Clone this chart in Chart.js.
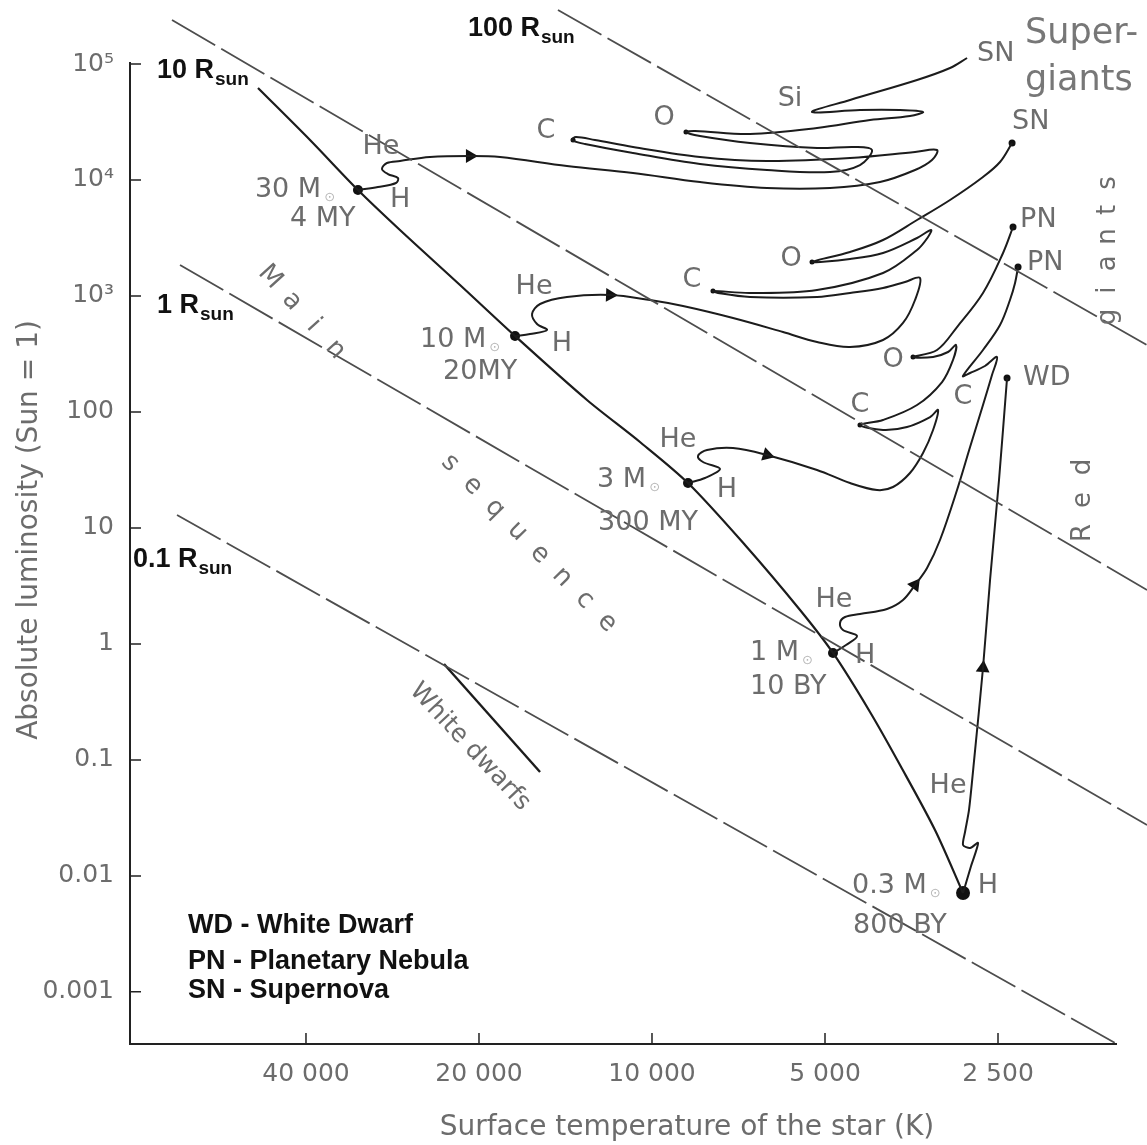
<!DOCTYPE html>
<html>
<head>
<meta charset="utf-8">
<script src="https://cdn.jsdelivr.net/npm/chart.js@4.4.1/dist/chart.umd.min.js"></script>
<style>
  html, body { margin: 0; padding: 0; background: #fff; }
  #hr { display: block; }
</style>
</head>
<body>
<canvas id="hr" width="1147" height="1145"></canvas>
<script>
// axis ranges: surface temperature (K), luminosity (Sun = 1)
const tempMin = 1552, tempMax = 80960;
const lumMin = 3.552e-4, lumMax = 1e5;
const tempTicks = [40000, 20000, 10000, 5000, 2500];
const tempTickLabels = ['40 000', '20 000', '10 000', '5 000', '2 500'];
const lumTicks = [1e5, 1e4, 1e3, 100, 10, 1, 0.1, 0.01, 0.001];
const lumTickLabels = ['10⁵', '10⁴', '10³', '100', '10', '1', '0.1', '0.01', '0.001'];

// lines of constant radius, [T, L] end points
const radius100 = [[14575, 292200], [1376, 377.8]];
const radius10 = [[68420, 239500], [1376, 2.916]];
const radius1 = [[66260, 1849], [1376, 0.02746]];
const radius01 = [[67060, 12.93], [1552, 3.552e-4]];

// zero-age main sequence
const mainSeq = [[48480, 62100], [39360, 22120], [32480, 8196], [27450, 3705], [21580, 1243],
  [17310, 451.6], [12975, 126.8], [10493, 55.07], [8657, 24.40], [6889, 7.125], [5526, 1.961],
  [4842, 0.835], [4175, 0.2588], [3702, 0.09035], [3218, 0.02486], [2876, 0.007118]];

const whiteDwarfs = [[23010, 0.6712], [15660, 0.07864]];

// evolution tracks
const track30 = [[32480, 8196], [29980, 8699], [27890, 9418], [27670, 10400], [28800, 11260],
  [29500, 12440], [28920, 14010], [27440, 14580], [24340, 15780], [20740, 16100], [18380, 15780],
  [14060, 13200], [10790, 11490], [8251, 9607], [6307, 8527], [4900, 8527], [4011, 9607],
  [3486, 12190], [3257, 14870], [3192, 18140],
  [3486, 17430], [4523, 15470], [6307, 14580], [8251, 15780], [10790, 19250], [12565, 22120], [13560, 23470],
  [13780, 22120], [13080, 20430], [10790, 17090], [8251, 13730], [6307, 12190], [4900, 11720],
  [4346, 13460], [4142, 18140],
  [4433, 19250], [5162, 18870], [6752, 20840], [8251, 23950], [8727, 25930],
  [8418, 26440], [6752, 24920], [5162, 28070], [4175, 32900], [3557, 35620], [3376, 38560],
  [3702, 40120], [4346, 40120], [5267, 38560],
  [4523, 48940], [3458, 72790], [3030, 92370], [2830, 112640]];

const track10 = [[17310, 451.6], [16300, 469.9], [15230, 508.8], [15850, 573.2], [16170, 699.0],
  [15660, 852.5], [14060, 979.6], [11830, 1019], [10080, 923], [8832, 819.3], [7228, 645.6],
  [5916, 489.0], [5162, 400.9], [4523, 363.0], [3963, 417.2], [3658, 584.7], [3486, 923], [3417, 1428],
  [3629, 1320], [3963, 1171], [4523, 1061], [5162, 979.6], [6752, 979.6], [7676, 1061], [7832, 1104],
  [6752, 1061], [5162, 1126], [3963, 1578], [3458, 2490], [3309, 3224], [3269, 3705],
  [3458, 3161], [3963, 2347], [4523, 2083], [5267, 1963],
  [4523, 2394], [3963, 3037], [3458, 4518], [3030, 6720], [2655, 10610], [2480, 14290], [2363, 20840]];

const track3 = [[8657, 24.40], [8087, 26.95], [7615, 32.22], [8152, 37.02], [8317, 41.70],
  [8022, 46.98], [7228, 48.88], [6307, 42.54], [5162, 31.58], [4523, 24.40], [4059, 21.23],
  [3807, 22.54], [3557, 29.76], [3376, 44.26], [3243, 69.88], [3179, 103.9],
  [3282, 90.45], [3600, 74.17], [3963, 69.88], [4346, 77.17],
  [3963, 85.23], [3458, 114.8], [3128, 181.2], [2994, 280.5], [2958, 377.8],
  [3054, 328.7], [3243, 297.7], [3514, 297.7],
  [3192, 342.1], [2946, 540.0], [2655, 1061], [2450, 2347], [2354, 3932]];

const track1 = [[4842, 0.835], [4596, 0.9786], [4398, 1.170], [4652, 1.318], [4708, 1.515],
  [4615, 1.706], [4346, 1.811], [3900, 2.000], [3658, 2.391], [3486, 3.221], [3322, 4.513],
  [3154, 7.869], [2946, 21.23], [2796, 49.86], [2655, 114.8], [2561, 208.2], [2510, 297.7],
  [2634, 249.0], [2796, 216.7], [2877, 204.2],
  [2655, 342.1], [2480, 561.9], [2383, 923], [2335, 1294], [2307, 1777]];

const track03 = [[2876, 0.007118], [2785, 0.01216], [2708, 0.01921], [2796, 0.01739],
  [2876, 0.01846], [2853, 0.02390], [2808, 0.03699], [2752, 0.09795], [2655, 0.6198],
  [2581, 3.557], [2490, 25.90], [2411, 196.2]];

// marked stages
const massDots = [[32480, 8196], [17310, 451.6], [8657, 24.40], [4842, 0.835], [2876, 0.007118]];
const endDots = [[2830, 112640], [2363, 20840], [2354, 3932], [2307, 1777], [2411, 196.2]];
const burnDots = [[13720, 22120], [8727, 25930], [7832, 1104], [5267, 1963], [4346, 77.17], [3514, 297.7]];
const arrowPts = [[20740, 16100], [11830, 1019], [6307, 42.54], [3486, 3.221], [2655, 0.6198]];
const arrowTurn = [90, 92, 107, 37, 5];

// text notes anchored at [T, L]
const notes = [
  {kind: 'mass', text: '30 M', sub: '⊙', at: [49080, 8196]},
  {kind: 'mass', text: '4 MY', at: [42650, 4609]},
  {kind: 'mass', text: '10 M', sub: '⊙', at: [25330, 417.2]},
  {kind: 'mass', text: '20MY', at: [23100, 221.0]},
  {kind: 'mass', text: '3 M', sub: '⊙', at: [12460, 25.90]},
  {kind: 'mass', text: '300 MY', at: [12410, 11.03]},
  {kind: 'mass', text: '1 M', sub: '⊙', at: [6752, 0.835]},
  {kind: 'mass', text: '10 BY', at: [6752, 0.4250]},
  {kind: 'mass', text: '0.3 M', sub: '⊙', at: [4487, 0.008177]},
  {kind: 'mass', text: '800 BY', at: [4469, 0.003697]},
  {kind: 'tag', text: 'H', at: [27440, 6720]},
  {kind: 'tag', text: 'H', at: [14340, 385.3]},
  {kind: 'tag', text: 'H', at: [7404, 21.23]},
  {kind: 'tag', text: 'H', at: [4259, 0.7866]},
  {kind: 'tag', text: 'H', at: [2602, 0.008177]},
  {kind: 'tag', text: 'He', at: [29620, 19250]},
  {kind: 'tag', text: 'He', at: [16040, 1195]},
  {kind: 'tag', text: 'He', at: [9011, 57.30]},
  {kind: 'tag', text: 'He', at: [4823, 2.391]},
  {kind: 'tag', text: 'He', at: [3054, 0.05955]},
  {kind: 'tag', text: 'C', at: [15290, 26440]},
  {kind: 'tag', text: 'C', at: [8519, 1373]},
  {kind: 'tag', text: 'C', at: [4346, 114.8]},
  {kind: 'tag', text: 'C', at: [2877, 134.5]},
  {kind: 'tag', text: 'O', at: [9530, 34220]},
  {kind: 'tag', text: 'O', at: [5729, 2083]},
  {kind: 'tag', text: 'O', at: [3807, 280.5]},
  {kind: 'tag', text: 'Si', at: [5752, 49910]},
  {kind: 'end', text: 'SN', at: [2719, 122000]},
  {kind: 'end', text: 'SN', at: [2363, 31620]},
  {kind: 'end', text: 'PN', at: [2288, 4518]},
  {kind: 'end', text: 'PN', at: [2225, 1924]},
  {kind: 'end', text: 'WD', at: [2261, 196.2]},
  {kind: 'big', text: 'Super-', at: [2243, 181400]},
  {kind: 'big', text: 'giants', at: [2243, 72000]},
  {kind: 'bold', text: '10 R', sub: 'sun', at: [72660, 87000]},
  {kind: 'bold', text: '1 R', sub: 'sun', at: [72660, 819.3]},
  {kind: 'bold', text: '0.1 R', sub: 'sun', at: [80020, 5.290]},
  {kind: 'bold', text: '100 R', sub: 'sun', at: [20910, 200300]},
  {kind: 'key', text: 'WD - White Dwarf', at: [64190, 0.003697]},
  {kind: 'key', text: 'PN - Planetary Nebula', at: [64190, 0.001809]},
  {kind: 'key', text: 'SN - Supernova', at: [64190, 0.001017]},
  {kind: 'spaced', text: 'Main', at: [46220, 1457], rot: 48, step: 32.6},
  {kind: 'spaced', text: 'sequence', at: [22460, 36.29], rot: 45.5, step: 32},
  {kind: 'spaced', text: 'giants', at: [1609, 658.6], rot: -90, step: 26.8},
  {kind: 'spaced', text: 'Red', at: [1778, 9.042], rot: -90, step: 33},
  {kind: 'tilted', text: 'White dwarfs', at: [20740, 0.1292], rot: 47}
];

const GREY = '#6c6c6c';
const noteStyles = {
  mass: {font: '27px "DejaVu Sans"', color: GREY, align: 'left', subFont: '13px "DejaVu Sans"', subColor: '#b8b8b8', subDx: 3, subDy: 8},
  tag: {font: '27px "DejaVu Sans"', color: GREY, align: 'center'},
  end: {font: '27px "DejaVu Sans"', color: GREY, align: 'left'},
  big: {font: '35px "DejaVu Sans"', color: '#777', align: 'left'},
  bold: {font: 'bold 27px "Liberation Sans"', color: '#111', align: 'left', subFont: 'bold 19px "Liberation Sans"', subColor: '#111', subDx: 1, subDy: 9},
  key: {font: 'bold 27px "Liberation Sans"', color: '#111', align: 'left'},
  spaced: {font: '26px "DejaVu Sans"', color: GREY, align: 'center'},
  tilted: {font: '25px "DejaVu Sans"', color: GREY, align: 'center'}
};

const toXY = pts => pts.map(([x, y]) => ({x, y}));

function curve(pts, extra) {
  return Object.assign({
    data: toXY(pts), showLine: true, borderColor: '#1c1c1c', borderWidth: 2,
    pointRadius: 0, tension: 0.35, fill: false, clip: false
  }, extra);
}
function dashed(pts) {
  return curve(pts, {borderColor: '#4d4d4d', borderWidth: 1.8, borderDash: [50, 7], tension: 0});
}
function marks(pts, radius, extra) {
  return Object.assign({
    data: toXY(pts), showLine: false, pointRadius: radius, pointBackgroundColor: '#111',
    pointBorderWidth: 0, clip: false
  }, extra);
}

function drawNote(ctx, n, px, py) {
  const st = noteStyles[n.kind];
  ctx.save();
  ctx.translate(px, py);
  if (n.rot) ctx.rotate(n.rot * Math.PI / 180);
  ctx.font = st.font;
  ctx.fillStyle = st.color;
  ctx.textBaseline = 'middle';
  if (n.step) {
    ctx.textAlign = 'center';
    [...n.text].forEach((c, i) => ctx.fillText(c, i * n.step, 0));
  } else {
    ctx.textAlign = st.align;
    ctx.fillText(n.text, 0, 0);
    if (n.sub) {
      const w = ctx.measureText(n.text).width;
      ctx.font = st.subFont;
      ctx.fillStyle = st.subColor;
      ctx.textAlign = 'left';
      ctx.fillText(n.sub, w + st.subDx, st.subDy);
    }
  }
  ctx.restore();
}

// axis lines, inward tick marks, axis titles and the notes
const decor = {
  id: 'decor',
  afterDatasetsDraw(chart) {
    const {ctx, chartArea: a, scales: {x, y}} = chart;
    ctx.save();
    ctx.strokeStyle = '#222';
    ctx.lineWidth = 2;
    ctx.beginPath();
    ctx.moveTo(a.left, a.top - 2);
    ctx.lineTo(a.left, a.bottom);
    ctx.lineTo(a.right, a.bottom);
    ctx.stroke();
    ctx.lineWidth = 1.5;
    ctx.beginPath();
    lumTicks.forEach(v => {
      const py = y.getPixelForValue(v);
      ctx.moveTo(a.left, py);
      ctx.lineTo(a.left + 11, py);
    });
    tempTicks.forEach(v => {
      const px = x.getPixelForValue(v);
      ctx.moveTo(px, a.bottom);
      ctx.lineTo(px, a.bottom - 11);
    });
    ctx.stroke();

    ctx.fillStyle = GREY;
    ctx.font = '28px "DejaVu Sans"';
    ctx.textAlign = 'center';
    ctx.textBaseline = 'middle';
    ctx.fillText('Surface temperature of the star (K)', a.left + 557, a.bottom + 84);
    ctx.save();
    ctx.translate(30, a.top + 466);
    ctx.rotate(-Math.PI / 2);
    ctx.fillText('Absolute luminosity (Sun = 1)', 0, 0);
    ctx.restore();

    notes.forEach(n => drawNote(ctx, n, x.getPixelForValue(n.at[0]), y.getPixelForValue(n.at[1])));
    ctx.restore();
  }
};

new Chart(document.getElementById('hr'), {
  type: 'scatter',
  data: {
    datasets: [
      dashed(radius100), dashed(radius10), dashed(radius1), dashed(radius01),
      curve(mainSeq, {borderWidth: 2.2, tension: 0.3}),
      curve(whiteDwarfs, {borderWidth: 2.4, tension: 0}),
      curve(track30), curve(track10), curve(track3), curve(track1), curve(track03, {tension: 0.25}),
      marks(massDots, [5, 5, 5, 5, 7]),
      marks(endDots, 3.5),
      marks(burnDots, 2.5),
      marks(arrowPts, 8, {pointStyle: 'triangle', pointRotation: arrowTurn})
    ]
  },
  options: {
    responsive: false,
    animation: false,
    events: [],
    layout: {padding: {top: 64, right: 30, bottom: 0, left: 0}},
    plugins: {legend: {display: false}, tooltip: {enabled: false}},
    scales: {
      x: {
        type: 'logarithmic',
        reverse: true,
        min: tempMin,
        max: tempMax,
        grid: {display: false, drawTicks: false},
        border: {display: false},
        afterBuildTicks: s => { s.ticks = tempTicks.map(v => ({value: v})); },
        afterFit: s => { s.height = 101; },
        ticks: {
          autoSkip: false,
          maxRotation: 0,
          padding: 15,
          color: GREY,
          font: {family: 'DejaVu Sans', size: 25},
          callback: (v, i) => tempTickLabels[i]
        }
      },
      y: {
        type: 'logarithmic',
        min: lumMin,
        max: lumMax,
        grid: {display: false, drawTicks: false},
        border: {display: false},
        afterBuildTicks: s => { s.ticks = lumTicks.map(v => ({value: v})); },
        afterFit: s => { s.width = 130; },
        ticks: {
          autoSkip: false,
          padding: 16,
          color: GREY,
          font: {family: 'DejaVu Sans', size: 25},
          callback: (v, i) => lumTickLabels[i]
        }
      }
    }
  },
  plugins: [decor]
});
</script>
</body>
</html>
